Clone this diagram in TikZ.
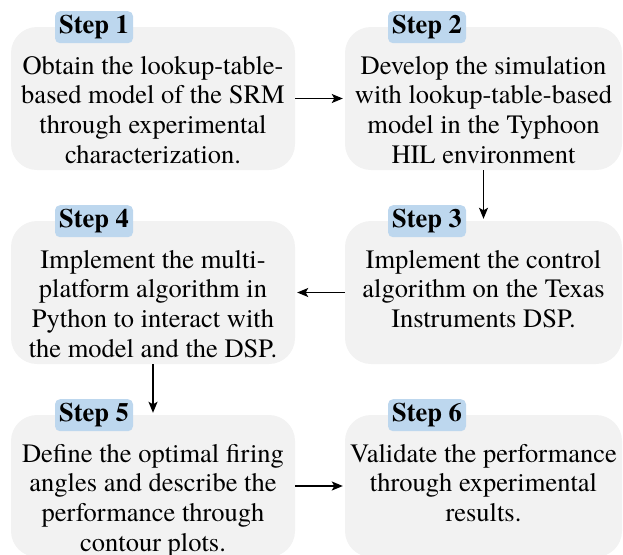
\documentclass[tikz,border=0pt]{standalone}
\usepackage{fontspec}
\setmainfont{texgyretermes}[Extension=.otf, UprightFont=*-regular,
  BoldFont=*-bold, ItalicFont=*-italic, BoldItalicFont=*-bolditalic]
\usetikzlibrary{arrows.meta}
\definecolor{boxgray}{HTML}{F2F2F2}
\definecolor{tagblue}{HTML}{BDD7EE}
\begin{document}
\begin{tikzpicture}[x=1pt,y=-1pt,
  stepbox/.style={fill=boxgray, rounded corners=26pt, inner sep=0pt,
    minimum height=143pt},
  leftcol/.style={stepbox, minimum width=284pt},
  rightcol/.style={stepbox, minimum width=277pt},
  tag/.style={fill=tagblue, rounded corners=5pt, inner sep=0pt,
    minimum width=78pt, text height=22pt, text depth=10pt, anchor=north,
    font=\bfseries\fontsize{26.5pt}{29.8pt}\selectfont},
  body/.style={anchor=north, align=center, inner sep=0pt,
    font=\fontsize{26.5pt}{29.8pt}\selectfont},
  conn/.style={line width=1.3pt, shorten >=2pt,
    -{Stealth[length=11pt,width=9pt,inset=2.5pt]}}]
\useasboundingbox (0,0) rectangle (623,554);
\clip (0,0) rectangle (623,554);

% step boxes
\node[leftcol]  (b1) at (153,98.5)   {};
\node[rightcol] (b2) at (483.5,98.5) {};
\node[rightcol] (b3) at (483.5,292.5) {};
\node[leftcol]  (b4) at (153,292.5)  {};
\node[leftcol,  minimum height=142pt] (b5) at (153,486)   {};
\node[rightcol, minimum height=142pt] (b6) at (483.5,486) {};

% step tags
\node[tag] (s1) at (94,11)   {Step 1};
\node[tag] (s2) at (427,11)  {Step 2};
\node[tag] (s3) at (427,205) {Step 3};
\node[tag] (s4) at (94,205)  {Step 4};
\node[tag] (s5) at (94,399)  {Step 5};
\node[tag] (s6) at (427,399) {Step 6};

% descriptions (first baseline about 47pt below the box top)
\node[body] (t1) at (153,53.1) {\strut Obtain the lookup-table-\\based model of the SRM\\through experimental\\characterization.};
\node[body] (t2) at (483.5,53.1) {\strut Develop the simulation\\with lookup-table-based\\model in the Typhoon\\HIL environment};
\node[body] (t3) at (483.5,247.1) {\strut Implement the control\\algorithm on the Texas\\Instruments DSP.};
\node[body] (t4) at (153,247.1) {\strut Implement the multi-\\platform algorithm in\\Python to interact with\\the model and the DSP.};
\node[body] (t5) at (153,441.1) {\strut Define the optimal firing\\angles and describe the\\performance through\\contour plots.};
\node[body] (t6) at (483.5,441.1) {\strut Validate the performance\\through experimental\\results.};

% flow arrows
\draw[conn] (b1.east) -- (b2.west);
\draw[conn] (b2.south) -- (b3.north);
\draw[conn] (b3.west) -- (b4.east);
\draw[conn] (b4.south) -- (b5.north);
\draw[conn] (b5.east) -- (b6.west);
\end{tikzpicture}
\end{document}
